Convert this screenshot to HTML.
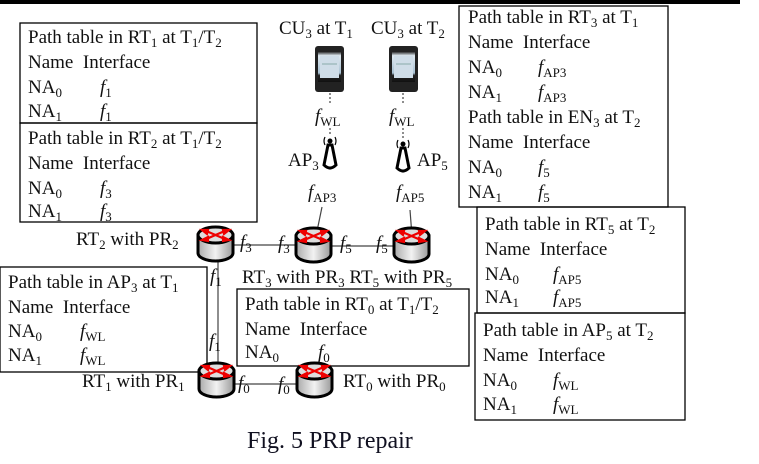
<!DOCTYPE html>
<html><head><meta charset="utf-8"><style>
html,body{margin:0;padding:0;background:#fff;}
svg{display:block;font-family:"Liberation Serif",serif;font-size:19px;fill:#111;}
.s{font-size:13px;}
.i{font-style:italic;}
</style></head><body>
<svg width="759" height="464" viewBox="0 0 759 464" xmlns="http://www.w3.org/2000/svg">
<defs>
<linearGradient id="g" x1="0" x2="1"><stop offset="0" stop-color="#aaa"/><stop offset=".5" stop-color="#f2f2f2"/><stop offset="1" stop-color="#999"/></linearGradient>
<linearGradient id="ph" x1="0" y1="0" x2="0" y2="1"><stop offset="0" stop-color="#333"/><stop offset=".12" stop-color="#dfe9f0"/><stop offset=".7" stop-color="#a9c2d4"/><stop offset=".78" stop-color="#222"/><stop offset="1" stop-color="#111"/></linearGradient>
<g id="rt">
<path d="M0,9 L0,27 A17.5,8 0 0 0 35,27 L35,9 Z" fill="url(#g)" stroke="#000" stroke-width="3"/>
<ellipse cx="17.5" cy="9" rx="17.5" ry="8" fill="#ddd" stroke="#000" stroke-width="3"/>
<g stroke="#e00" stroke-width="2.2" fill="#e00">
<line x1="6" y1="4" x2="29" y2="14"/><line x1="6" y1="14" x2="29" y2="4"/>
<polygon points="4,14 10,11 10,15"/><polygon points="31,4 25,4 26,8"/>
<polygon points="4,4 10,4 9,8"/><polygon points="31,14 25,11 25,15"/>
</g>
</g>
<g id="ap">
<path d="M-2,8 L-6,28 Q0,34 6,28 L2,8 Z" fill="#fff" stroke="#000" stroke-width="3"/>
<circle cx="0" cy="4" r="2.5" fill="#000"/>
<path d="M-5,0 Q-7,4 -5,8 M5,0 Q7,4 5,8" stroke="#000" fill="none" stroke-width="1.2"/>
</g>
<g id="phone"><rect x="0" y="0" width="29" height="46" rx="3" fill="#222"/><rect x="3" y="6" width="23" height="30" fill="url(#ph)"/><rect x="5" y="10" width="19" height="22" fill="#cfdde8"/><line x1="7" y1="18" x2="22" y2="18" stroke="#8aa"/></g>
</defs>
<rect x="0" y="0" width="740" height="4" fill="#000"/>

<g fill="none" stroke="#000" stroke-width="1.3">
<rect x="20" y="23" width="237" height="100"/>
<rect x="20" y="123" width="237" height="99"/>
<rect x="459" y="6" width="209" height="201"/>
<rect x="477" y="207" width="208" height="106"/>
<rect x="475" y="313" width="210" height="107"/>
<rect x="0" y="267" width="207" height="105"/>
<rect x="237" y="289" width="232" height="77"/>
</g>

<g stroke="#444" stroke-width="1.2" fill="none">
<line x1="216" y1="245" x2="314" y2="245"/>
<line x1="314" y1="246" x2="412" y2="246"/>
<line x1="218" y1="250" x2="218" y2="372"/>
<line x1="216" y1="384" x2="314" y2="384"/>
<line x1="322" y1="207" x2="316" y2="236"/>
<line x1="410" y1="210" x2="412" y2="236"/>
<line x1="330" y1="93" x2="330" y2="104" stroke-dasharray="2,2"/>
<line x1="330" y1="128" x2="330" y2="136" stroke-dasharray="2,2"/>
<line x1="403" y1="93" x2="403" y2="104" stroke-dasharray="2,2"/>
<line x1="403" y1="128" x2="403" y2="140" stroke-dasharray="2,2"/>
</g>

<use href="#phone" x="315" y="46"/>
<use href="#phone" x="389" y="46"/>
<use href="#ap" x="330" y="137"/>
<use href="#ap" x="403" y="140"/>
<use href="#rt" x="198" y="226"/>
<use href="#rt" x="296" y="227"/>
<use href="#rt" x="394" y="227"/>
<use href="#rt" x="199" y="362"/>
<use href="#rt" x="297" y="362"/>

<text x="28" y="43">Path table in RT<tspan class="s" dy="4">1</tspan><tspan dy="-4"> at T</tspan><tspan class="s" dy="4">1</tspan><tspan dy="-4">/T</tspan><tspan class="s" dy="4">2</tspan></text>
<text x="28" y="68">Name&#160; Interface</text>
<text x="28" y="93">NA<tspan class="s" dy="4">0</tspan></text><text x="100" y="93" class="i">f<tspan class="s" dy="4" font-style="normal">1</tspan></text>
<text x="28" y="117">NA<tspan class="s" dy="4">1</tspan></text><text x="100" y="117" class="i">f<tspan class="s" dy="4" font-style="normal">1</tspan></text>
<text x="28" y="144">Path table in RT<tspan class="s" dy="4">2</tspan><tspan dy="-4"> at T</tspan><tspan class="s" dy="4">1</tspan><tspan dy="-4">/T</tspan><tspan class="s" dy="4">2</tspan></text>
<text x="28" y="169">Name&#160; Interface</text>
<text x="28" y="194">NA<tspan class="s" dy="4">0</tspan></text><text x="100" y="194" class="i">f<tspan class="s" dy="4" font-style="normal">3</tspan></text>
<text x="28" y="217">NA<tspan class="s" dy="4">1</tspan></text><text x="100" y="217" class="i">f<tspan class="s" dy="4" font-style="normal">3</tspan></text>

<text x="468" y="23">Path table in RT<tspan class="s" dy="4">3</tspan><tspan dy="-4"> at T</tspan><tspan class="s" dy="4">1</tspan></text>
<text x="468" y="48">Name&#160; Interface</text>
<text x="468" y="73">NA<tspan class="s" dy="4">0</tspan></text><text x="538" y="73" class="i">f<tspan class="s" dy="4" font-style="normal">AP3</tspan></text>
<text x="468" y="98">NA<tspan class="s" dy="4">1</tspan></text><text x="538" y="98" class="i">f<tspan class="s" dy="4" font-style="normal">AP3</tspan></text>
<text x="468" y="123">Path table in EN<tspan class="s" dy="4">3</tspan><tspan dy="-4"> at T</tspan><tspan class="s" dy="4">2</tspan></text>
<text x="468" y="148">Name&#160; Interface</text>
<text x="468" y="173">NA<tspan class="s" dy="4">0</tspan></text><text x="538" y="173" class="i">f<tspan class="s" dy="4" font-style="normal">5</tspan></text>
<text x="468" y="198">NA<tspan class="s" dy="4">1</tspan></text><text x="538" y="198" class="i">f<tspan class="s" dy="4" font-style="normal">5</tspan></text>

<text x="485" y="230">Path table in RT<tspan class="s" dy="4">5</tspan><tspan dy="-4"> at T</tspan><tspan class="s" dy="4">2</tspan></text>
<text x="485" y="255">Name&#160; Interface</text>
<text x="485" y="280">NA<tspan class="s" dy="4">0</tspan></text><text x="553" y="280" class="i">f<tspan class="s" dy="4" font-style="normal">AP5</tspan></text>
<text x="485" y="303">NA<tspan class="s" dy="4">1</tspan></text><text x="553" y="303" class="i">f<tspan class="s" dy="4" font-style="normal">AP5</tspan></text>

<text x="483" y="336">Path table in AP<tspan class="s" dy="4">5</tspan><tspan dy="-4"> at T</tspan><tspan class="s" dy="4">2</tspan></text>
<text x="483" y="361">Name&#160; Interface</text>
<text x="483" y="386">NA<tspan class="s" dy="4">0</tspan></text><text x="553" y="386" class="i">f<tspan class="s" dy="4" font-style="normal">WL</tspan></text>
<text x="483" y="410">NA<tspan class="s" dy="4">1</tspan></text><text x="553" y="410" class="i">f<tspan class="s" dy="4" font-style="normal">WL</tspan></text>

<text x="8" y="288">Path table in AP<tspan class="s" dy="4">3</tspan><tspan dy="-4"> at T</tspan><tspan class="s" dy="4">1</tspan></text>
<text x="8" y="313">Name&#160; Interface</text>
<text x="8" y="337">NA<tspan class="s" dy="4">0</tspan></text><text x="80" y="337" class="i">f<tspan class="s" dy="4" font-style="normal">WL</tspan></text>
<text x="8" y="361">NA<tspan class="s" dy="4">1</tspan></text><text x="80" y="361" class="i">f<tspan class="s" dy="4" font-style="normal">WL</tspan></text>

<text x="245" y="310">Path table in RT<tspan class="s" dy="4">0</tspan><tspan dy="-4"> at T</tspan><tspan class="s" dy="4">1</tspan><tspan dy="-4">/T</tspan><tspan class="s" dy="4">2</tspan></text>
<text x="245" y="335">Name&#160; Interface</text>
<text x="245" y="358">NA<tspan class="s" dy="4">0</tspan></text><text x="318" y="358" class="i">f<tspan class="s" dy="4" font-style="normal">0</tspan></text>

<text x="279" y="34">CU<tspan class="s" dy="4">3</tspan><tspan dy="-4"> at T</tspan><tspan class="s" dy="4">1</tspan></text>
<text x="371" y="34">CU<tspan class="s" dy="4">3</tspan><tspan dy="-4"> at T</tspan><tspan class="s" dy="4">2</tspan></text>
<text x="315" y="122" class="i">f<tspan class="s" dy="4" font-style="normal">WL</tspan></text>
<text x="389" y="122" class="i">f<tspan class="s" dy="4" font-style="normal">WL</tspan></text>
<text x="288" y="166">AP<tspan class="s" dy="4">3</tspan></text>
<text x="417" y="166">AP<tspan class="s" dy="4">5</tspan></text>
<text x="308" y="198" class="i">f<tspan class="s" dy="4" font-style="normal">AP3</tspan></text>
<text x="396" y="198" class="i">f<tspan class="s" dy="4" font-style="normal">AP5</tspan></text>
<text x="76" y="245">RT<tspan class="s" dy="4">2</tspan><tspan dy="-4"> with PR</tspan><tspan class="s" dy="4">2</tspan></text>
<text x="240" y="248" class="i">f<tspan class="s" dy="4" font-style="normal">3</tspan></text>
<text x="278" y="249" class="i">f<tspan class="s" dy="4" font-style="normal">3</tspan></text>
<text x="340" y="249" class="i">f<tspan class="s" dy="4" font-style="normal">5</tspan></text>
<text x="376" y="249" class="i">f<tspan class="s" dy="4" font-style="normal">5</tspan></text>
<text x="210" y="282" class="i">f<tspan class="s" dy="4" font-style="normal">1</tspan></text>
<text x="209" y="347" class="i">f<tspan class="s" dy="4" font-style="normal">1</tspan></text>
<text x="242" y="283">RT<tspan class="s" dy="4">3</tspan><tspan dy="-4"> with PR</tspan><tspan class="s" dy="4">3</tspan><tspan dy="-4"> RT</tspan><tspan class="s" dy="4">5</tspan><tspan dy="-4"> with PR</tspan><tspan class="s" dy="4">5</tspan></text>
<text x="82" y="387">RT<tspan class="s" dy="4">1</tspan><tspan dy="-4"> with PR</tspan><tspan class="s" dy="4">1</tspan></text>
<text x="238" y="389" class="i">f<tspan class="s" dy="4" font-style="normal">0</tspan></text>
<text x="278" y="390" class="i">f<tspan class="s" dy="4" font-style="normal">0</tspan></text>
<text x="343" y="387">RT<tspan class="s" dy="4">0</tspan><tspan dy="-4"> with PR</tspan><tspan class="s" dy="4">0</tspan></text>

<text x="247" y="448" font-size="24" fill="#101020">Fig. 5 PRP repair</text>
</svg>
</body></html>
